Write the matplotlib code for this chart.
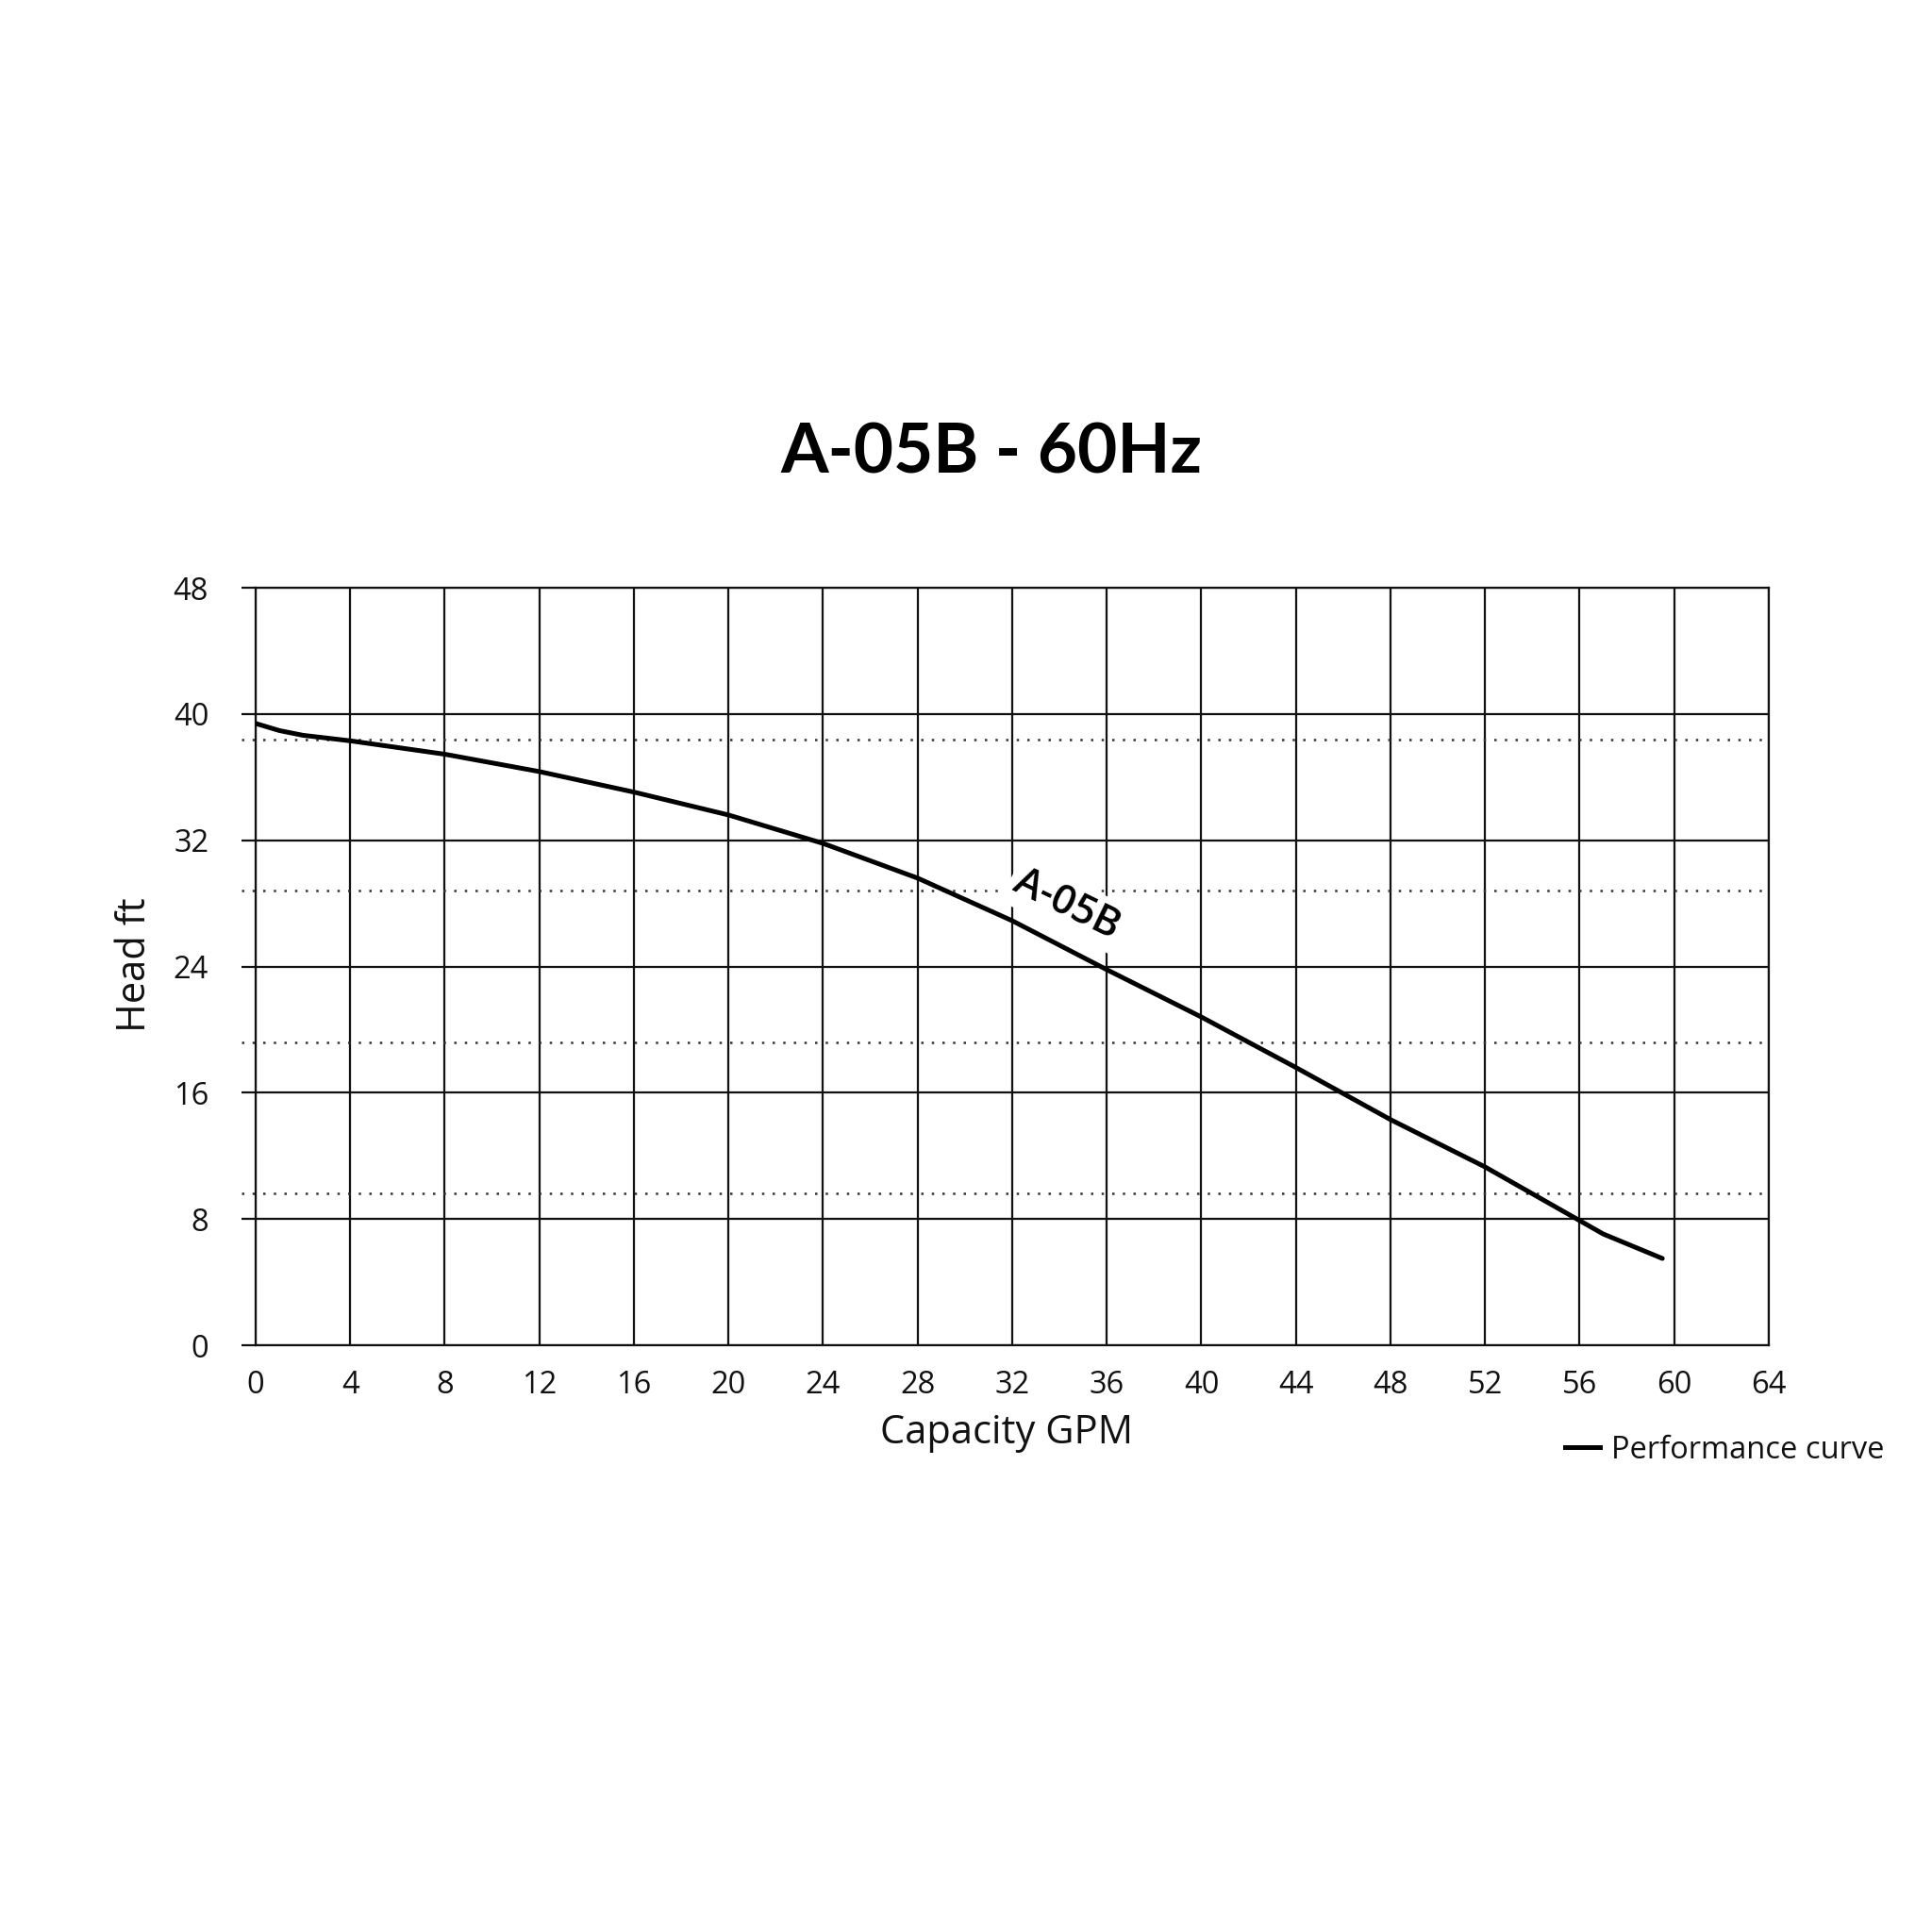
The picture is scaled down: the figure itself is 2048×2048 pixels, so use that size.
import matplotlib
matplotlib.use("Agg")
import matplotlib.pyplot as plt
from matplotlib.lines import Line2D

# ---- data ----
flow_gpm = [0, 1, 2, 4, 8, 12, 16, 20, 24, 28, 32, 36, 40, 44, 48, 52, 56, 57, 59.5]
head_ft = [39.4, 38.95, 38.65, 38.3, 37.45, 36.35, 35.05, 33.6, 31.8, 29.6, 26.9,
           23.8, 20.8, 17.6, 14.3, 11.3, 7.9, 7.05, 5.5]
x_ticks = [0, 4, 8, 12, 16, 20, 24, 28, 32, 36, 40, 44, 48, 52, 56, 60, 64]
y_ticks = [0, 8, 16, 24, 32, 40, 48]
dotted_levels = [9.6, 19.2, 28.8, 38.4]
title = "A-05B - 60Hz"
curve_label = "A-05B"

body_font = ["Open Sans", "DejaVu Sans"]
ink = "#111111"
grid_lw = 1.6

fig = plt.figure(figsize=(20.48, 20.48), dpi=100)
ax = fig.add_axes([0.1323, 0.3037, 0.7832, 0.3921])
ax.set_xlim(0, 64)
ax.set_ylim(0, 48)

ax.set_xticks(x_ticks)
ax.set_yticks(y_ticks)
ax.set_xticklabels([str(v) for v in x_ticks], fontfamily=body_font, fontsize=23.5, color=ink)
ax.set_yticklabels([str(v) for v in y_ticks], fontfamily=body_font, fontsize=23.5, color=ink)
ax.tick_params(axis="x", length=0, pad=19)
ax.tick_params(axis="y", length=10.8, width=grid_lw, color=ink, direction="out", pad=25)

ax.grid(True, color=ink, linewidth=grid_lw, zorder=1)
ax.set_axisbelow(True)
for s in ax.spines.values():
    s.set_linewidth(grid_lw)
    s.set_color(ink)

# dotted secondary lines, extending slightly left of the axis
ax.hlines(dotted_levels, -0.0094, 1.0, transform=ax.get_yaxis_transform(),
          colors="#333333", linestyles=(0, (1, 3.5)), linewidth=1.8, clip_on=False, zorder=1)

ax.plot(flow_gpm, head_ft, color="#000000", linewidth=3.6, solid_capstyle="round",
        solid_joinstyle="round", zorder=4, label="Performance curve")

ax.text(34.3, 27.9, curve_label, rotation=-26, ha="center", va="center",
        fontfamily=body_font, fontsize=31, fontweight=600, color="#000000", zorder=3,
        rotation_mode="anchor", bbox=dict(facecolor="white", edgecolor="none", pad=4))

ax.set_xlabel("Capacity GPM", fontfamily=body_font, fontsize=30, color=ink, va="center")
ax.xaxis.set_label_coords(0.4965, -0.116)
ax.set_ylabel("Head ft", fontfamily=body_font, fontsize=30, color=ink, va="center")
ax.yaxis.set_label_coords(-0.0796, 0.502)

fig.text(0.513, 0.765, title, ha="center", va="center", fontfamily=["Lato", "DejaVu Sans"],
         fontweight="bold", fontsize=52.5, color="#000000")

fig.legend(handles=[Line2D([], [], color="#000000", linewidth=3.6)], labels=["Performance curve"],
           loc="center left", bbox_to_anchor=(0.810, 0.2495), frameon=False,
           prop=dict(family=body_font, size=23.5), handlelength=1.15,
           handletextpad=0.35, borderpad=0, borderaxespad=0, labelcolor=ink)

fig.savefig("out.png", dpi=100, facecolor="white")
